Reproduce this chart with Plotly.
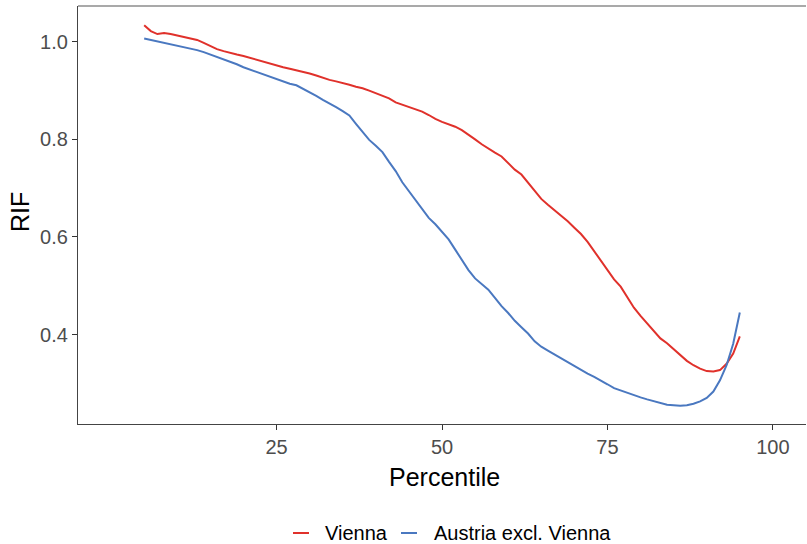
import plotly.graph_objects as go

# Percentiles 5..95
percentile = list(range(5, 96))

vienna = [
    1.034, 1.022, 1.016, 1.018, 1.016, 1.013, 1.010, 1.008, 1.004, 0.998,
    0.991, 0.985, 0.981, 0.977, 0.974, 0.971, 0.967, 0.963, 0.959, 0.955,
    0.951, 0.948, 0.945, 0.942, 0.938, 0.935, 0.931, 0.926, 0.922, 0.919,
    0.916, 0.912, 0.908, 0.905, 0.900, 0.895, 0.889, 0.884, 0.876, 0.871,
    0.867, 0.862, 0.857, 0.850, 0.842, 0.836, 0.831, 0.826, 0.819, 0.810,
    0.800, 0.790, 0.781, 0.773, 0.765, 0.752, 0.738, 0.728, 0.711, 0.693,
    0.678, 0.666, 0.655, 0.643, 0.632, 0.619, 0.606, 0.590, 0.571, 0.552,
    0.531, 0.513, 0.498, 0.477, 0.455, 0.438, 0.423, 0.409, 0.392, 0.382,
    0.370, 0.357, 0.346, 0.337, 0.330, 0.325, 0.324, 0.327, 0.340, 0.361,
    0.396,
]

austria_excl_vienna = [
    1.007, 1.004, 1.002, 0.999, 0.996, 0.993, 0.990, 0.987, 0.983, 0.979,
    0.974, 0.970, 0.965, 0.959, 0.954, 0.948, 0.943, 0.939, 0.934, 0.929,
    0.924, 0.919, 0.914, 0.911, 0.904, 0.897, 0.889, 0.881, 0.874, 0.866,
    0.858, 0.849, 0.832, 0.815, 0.799, 0.787, 0.774, 0.754, 0.735, 0.712,
    0.694, 0.676, 0.657, 0.639, 0.626, 0.611, 0.595, 0.574, 0.553, 0.532,
    0.515, 0.503, 0.492, 0.475, 0.458, 0.444, 0.428, 0.415, 0.402, 0.386,
    0.375, 0.367, 0.359, 0.351, 0.343, 0.335, 0.327, 0.320, 0.313, 0.306,
    0.298, 0.290, 0.285, 0.280, 0.276, 0.271, 0.267, 0.263, 0.259, 0.256,
    0.255, 0.254, 0.255, 0.258, 0.263, 0.270, 0.283, 0.306, 0.337, 0.381,
    0.445,
]

series_names = ["Vienna", "Austria excl. Vienna"]
series_colors = ["#E0312B", "#4A78C0"]

x_ticks = [25, 50, 75, 100]
y_ticks = [0.4, 0.6, 0.8, 1.0]
y_tick_text = ["0.4", "0.6", "0.8", "1.0"]

FONT = "Liberation Sans, Arial, sans-serif"

W, H = 807, 544
M_L, M_R, M_T, M_B = 78, 1, 6, 120
PW, PH = W - M_L - M_R, H - M_T - M_B


def px_to_paper_x(px):
    return (px - M_L) / PW


def px_to_paper_y(py):
    return (H - M_B - py) / PH


fig = go.Figure()
for name, ys, col in zip(series_names, [vienna, austria_excl_vienna], series_colors):
    fig.add_trace(go.Scatter(
        x=percentile, y=ys, mode="lines", name=name,
        line=dict(color=col, width=2), showlegend=False,
    ))

axis_common = dict(
    showgrid=False, zeroline=False, automargin=False,
    showline=True, linecolor="#444444", linewidth=1.2,
    ticks="outside", ticklen=5, tickwidth=1.2, tickcolor="#333333",
    tickfont=dict(family=FONT, size=20, color="#4D4D4D"),
)

fig.update_xaxes(range=[-5, 105], tickvals=x_ticks, **axis_common)
fig.update_yaxes(range=[0.2165, 1.0735], tickvals=y_ticks, ticktext=y_tick_text, **axis_common)

# light top border of the panel
fig.add_shape(type="line", xref="paper", yref="paper", x0=0, x1=1, y0=1, y1=1,
              line=dict(color="#8C8C8C", width=1.5))

# axis titles
fig.add_annotation(text="Percentile", xref="paper", yref="paper",
                   x=px_to_paper_x(444), y=px_to_paper_y(477),
                   xanchor="center", yanchor="middle", showarrow=False,
                   font=dict(family=FONT, size=25, color="#000000"))
fig.add_annotation(text="RIF", xref="paper", yref="paper", textangle=-90,
                   x=px_to_paper_x(20), y=px_to_paper_y(212),
                   xanchor="center", yanchor="middle", showarrow=False,
                   font=dict(family=FONT, size=25, color="#000000"))

# legend drawn as key lines plus labels below the panel
legend_y = px_to_paper_y(533)
key_x = [(293, 309, 323), (401, 417, 432)]
for (x0, x1, tx), name, col in zip(key_x, series_names, series_colors):
    fig.add_shape(type="line", xref="paper", yref="paper",
                  x0=px_to_paper_x(x0), x1=px_to_paper_x(x1), y0=legend_y, y1=legend_y,
                  line=dict(color=col, width=2))
    fig.add_annotation(text=name, xref="paper", yref="paper",
                       x=px_to_paper_x(tx), y=legend_y, xanchor="left", yanchor="middle",
                       showarrow=False, font=dict(family=FONT, size=20, color="#000000"))

fig.update_layout(
    width=W, height=H,
    margin=dict(l=M_L, r=M_R, t=M_T, b=M_B, autoexpand=False),
    plot_bgcolor="white", paper_bgcolor="white",
    showlegend=False,
)

fig.write_html("out.html")
